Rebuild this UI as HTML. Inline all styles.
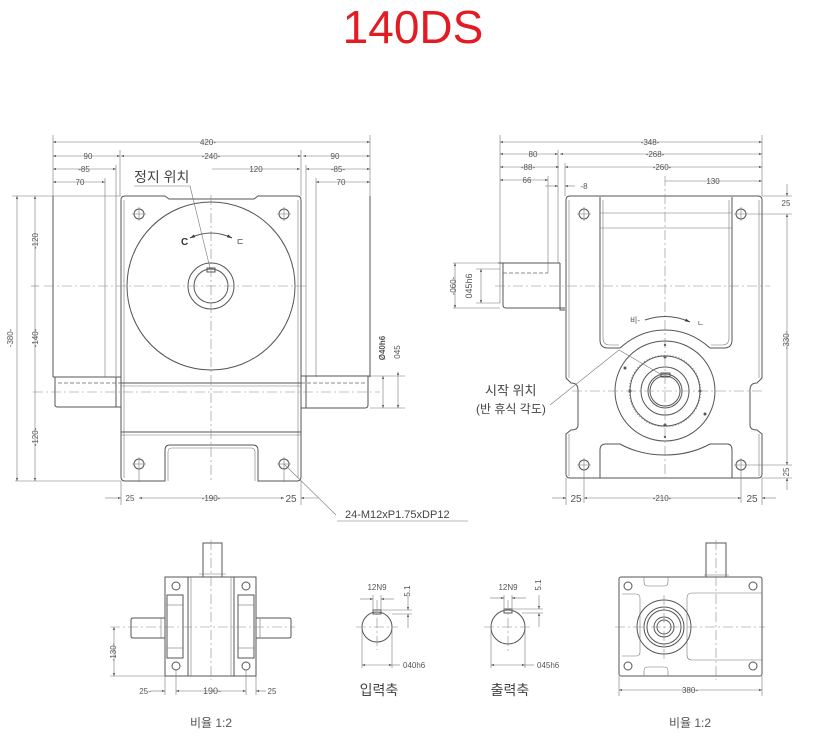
<!DOCTYPE html>
<html><head><meta charset="utf-8"><style>
html,body{margin:0;padding:0;background:#fff;width:813px;height:743px;overflow:hidden}
svg{display:block}
text{font-family:"Liberation Sans","Noto Sans CJK KR",sans-serif;fill:#555}
.l{stroke:#555;stroke-width:1;fill:none}
.t{stroke:#777;stroke-width:0.6;fill:none}
.c{stroke:#888;stroke-width:0.6;fill:none;stroke-dasharray:10 3 2 3}
.d{stroke:#666;stroke-width:0.8;fill:none;stroke-dasharray:4 2}
.s{font-size:8px}
</style></head><body>
<svg width="813" height="743" viewBox="0 0 813 743" xmlns="http://www.w3.org/2000/svg">
<defs>
<marker id="a" viewBox="0 0 10 10" refX="10" refY="5" markerWidth="7" markerHeight="5" orient="auto-start-reverse"><path d="M0,2L10,5L0,8z" fill="#333"/></marker>
</defs>
<text x="413" y="43" font-size="46" text-anchor="middle" style="fill:#e31b23">140DS</text>

<!-- ===== LEFT TOP VIEW ===== -->
<g>
<line class="t" x1="53" y1="135" x2="53" y2="196"/>
<line class="t" x1="370" y1="135" x2="370" y2="196"/>
<line class="t" x1="53" y1="142" x2="370" y2="142" marker-start="url(#a)" marker-end="url(#a)"/>
<text class="s" x="208" y="145" text-anchor="middle">420-</text>
<line class="t" x1="53" y1="156" x2="120" y2="156" marker-start="url(#a)" marker-end="url(#a)"/>
<line class="t" x1="120" y1="150" x2="120" y2="196"/>
<line class="t" x1="121" y1="156" x2="301" y2="156" marker-start="url(#a)" marker-end="url(#a)"/>
<line class="t" x1="301" y1="150" x2="301" y2="196"/>
<line class="t" x1="303" y1="156" x2="370" y2="156" marker-start="url(#a)" marker-end="url(#a)"/>
<text class="s" x="88" y="159" text-anchor="middle">90</text>
<text class="s" x="211" y="159" text-anchor="middle">-240-</text>
<text class="s" x="335" y="159" text-anchor="middle">90</text>
<line class="t" x1="53" y1="169" x2="116" y2="169" marker-start="url(#a)" marker-end="url(#a)"/>
<line class="t" x1="116" y1="165" x2="116" y2="376"/>
<text class="s" x="84" y="172" text-anchor="middle">-85</text>
<line class="t" x1="212" y1="169" x2="300" y2="169" marker-end="url(#a)"/>
<text class="s" x="256" y="172" text-anchor="middle">120</text>
<line class="t" x1="306" y1="169" x2="370" y2="169" marker-start="url(#a)" marker-end="url(#a)"/>
<line class="t" x1="306" y1="165" x2="306" y2="376"/>
<text class="s" x="338" y="172" text-anchor="middle">-85-</text>
<line class="t" x1="53" y1="182" x2="105" y2="182" marker-start="url(#a)" marker-end="url(#a)"/>
<line class="t" x1="105" y1="178" x2="105" y2="377"/>
<text class="s" x="80" y="185" text-anchor="middle">70</text>
<line class="t" x1="316" y1="182" x2="370" y2="182" marker-start="url(#a)" marker-end="url(#a)"/>
<line class="t" x1="316" y1="178" x2="316" y2="377"/>
<text class="s" x="341" y="185" text-anchor="middle">70</text>
<line class="l" x1="53" y1="196" x2="53" y2="377"/>
<line class="l" x1="370" y1="196" x2="370" y2="377"/>
<path class="l" d="M53,377 H121 M55,377 V405 Q55,407 58,407 H121 M116,377 V407"/>
<path class="l" d="M301,376 H370 M368,376 V405 Q368,408 365,408 H301 M306,376 V408"/>
<line class="d" x1="58" y1="383" x2="121" y2="383"/>
<line class="d" x1="301" y1="383" x2="365" y2="383"/>
<path class="l" d="M125,196 H165 L169,199 H254 L258,196 H297 Q301,196 301,200 V477 Q301,481 297,481 H258 V450 Q258,445 253,445 H170 Q165,445 165,450 V481 H125 Q121,481 121,477 V200 Q121,196 125,196 Z"/>
<path class="t" d="M124,200 V478 M298,200 V478"/>
<line class="l" x1="121" y1="383" x2="301" y2="383"/>
<line class="t" x1="121" y1="386" x2="301" y2="386"/>
<line class="l" x1="121" y1="432" x2="301" y2="432"/>
<line class="t" x1="121" y1="435" x2="301" y2="435"/>
<path class="t" d="M168,481 V452 Q168,448 172,448 H251 Q255,448 255,452 V481"/>
<circle class="l" cx="211" cy="286" r="84"/>
<circle class="l" cx="211" cy="286" r="23"/>
<circle class="l" cx="211" cy="286" r="17"/>
<rect class="l" x="207" y="268" width="8" height="4"/>
<line class="c" x1="44" y1="286" x2="306" y2="286"/>
<line class="c" x1="33" y1="392" x2="380" y2="392"/>
<line class="c" x1="211" y1="195" x2="211" y2="483"/>
<path class="l" d="M190,238 Q211,228 232,238" marker-start="url(#a)" marker-end="url(#a)"/>
<text x="181" y="245" font-size="10" font-weight="bold" style="fill:#333">C</text>
<text x="236" y="245" font-size="9" style="fill:#333">ㄷ</text>
<g class="l">
<circle cx="139" cy="214" r="5"/><circle cx="284" cy="214" r="5"/><circle cx="139" cy="464" r="5"/><circle cx="284" cy="464" r="5"/>
</g>
<path class="t" d="M132,214h14M139,207v14M277,214h14M284,207v14M132,464h14M139,457v25M277,464h14M284,457v25"/>
<text x="134" y="182" font-size="14" style="fill:#444">정지 위치</text>
<line class="t" x1="134" y1="186" x2="190" y2="186"/>
<line class="t" x1="190" y1="186" x2="210" y2="268"/>
<line class="t" x1="284" y1="464" x2="336" y2="515"/>
<text x="345" y="518" font-size="11" style="fill:#444">24-M12xP1.75xDP12</text>
<line class="t" x1="337" y1="521" x2="468" y2="521"/>
<line class="t" x1="12" y1="196" x2="121" y2="196"/>
<line class="t" x1="15" y1="481" x2="121" y2="481"/>
<line class="t" x1="17" y1="196" x2="17" y2="481" marker-start="url(#a)" marker-end="url(#a)"/>
<text class="s" x="13" y="338" text-anchor="middle" transform="rotate(-90 13 338)">-380-</text>
<line class="t" x1="35" y1="196" x2="35" y2="286" marker-start="url(#a)"/>
<line class="t" x1="35" y1="286" x2="35" y2="392" />
<line class="t" x1="35" y1="392" x2="35" y2="481" marker-end="url(#a)"/>
<line class="t" x1="31" y1="286" x2="39" y2="286"/>
<text class="s" x="38" y="241" text-anchor="middle" transform="rotate(-90 38 241)">-120</text>
<text class="s" x="38" y="338" text-anchor="middle" transform="rotate(-90 38 338)">-140-</text>
<text class="s" x="38" y="437" text-anchor="middle" transform="rotate(-90 38 437)">-120-</text>
<line class="t" x1="370" y1="376" x2="405" y2="376"/>
<line class="t" x1="370" y1="408" x2="405" y2="408"/>
<line class="t" x1="383" y1="376" x2="383" y2="408" marker-start="url(#a)" marker-end="url(#a)"/>
<line class="t" x1="398" y1="372" x2="398" y2="408" marker-start="url(#a)" marker-end="url(#a)"/>
<text class="s" x="385" y="348" text-anchor="middle" font-weight="bold" transform="rotate(-90 385 348)">Ø40h6</text>
<text class="s" x="400" y="352" text-anchor="middle" transform="rotate(-90 400 352)">045</text>
<line class="t" x1="121" y1="481" x2="121" y2="505"/>
<line class="t" x1="301" y1="481" x2="301" y2="505"/>
<line class="t" x1="105" y1="498" x2="121" y2="498" marker-end="url(#a)"/>
<line class="t" x1="139" y1="498" x2="284" y2="498" marker-start="url(#a)" marker-end="url(#a)"/>
<line class="t" x1="301" y1="498" x2="318" y2="498" marker-start="url(#a)"/>
<text class="s" x="130" y="501" text-anchor="middle">25</text>
<text class="s" x="211" y="501" text-anchor="middle">-190-</text>
<text x="291" y="502" font-size="10" text-anchor="middle">25</text>
</g>

<!-- ===== RIGHT TOP VIEW ===== -->
<g>
<line class="t" x1="500" y1="135" x2="500" y2="303"/>
<line class="t" x1="762" y1="135" x2="762" y2="196"/>
<line class="t" x1="500" y1="142" x2="762" y2="142" marker-start="url(#a)" marker-end="url(#a)"/>
<text class="s" x="650" y="145" text-anchor="middle">-348-</text>
<line class="t" x1="500" y1="154" x2="558" y2="154" marker-start="url(#a)" marker-end="url(#a)"/>
<line class="t" x1="558" y1="150" x2="558" y2="263"/>
<line class="t" x1="560" y1="154" x2="762" y2="154" marker-start="url(#a)" marker-end="url(#a)"/>
<text class="s" x="533" y="157" text-anchor="middle">80</text>
<text class="s" x="655" y="157" text-anchor="middle">-268-</text>
<line class="t" x1="500" y1="167" x2="559" y2="167" marker-start="url(#a)" marker-end="url(#a)"/>
<line class="t" x1="565" y1="167" x2="762" y2="167" marker-start="url(#a)" marker-end="url(#a)"/>
<line class="t" x1="565" y1="163" x2="565" y2="196"/>
<text class="s" x="528" y="170" text-anchor="middle">-88-</text>
<text class="s" x="662" y="170" text-anchor="middle">-260-</text>
<line class="t" x1="500" y1="180" x2="548" y2="180" marker-start="url(#a)" marker-end="url(#a)"/>
<line class="t" x1="548" y1="176" x2="548" y2="273"/>
<text class="s" x="527" y="183" text-anchor="middle">66</text>
<line class="t" x1="545" y1="186" x2="558" y2="186" marker-end="url(#a)"/>
<line class="t" x1="565" y1="186" x2="575" y2="186" marker-start="url(#a)"/>
<text class="s" x="584" y="189" text-anchor="middle">-8</text>
<line class="t" x1="665" y1="181" x2="762" y2="181" marker-end="url(#a)"/>
<text class="s" x="713" y="184" text-anchor="middle">130</text>
<path class="l" d="M560,263 H498 M503,263 V305 Q503,308 506,308 H565 M560,263 V310 H565"/>
<line class="d" x1="503" y1="273" x2="548" y2="273"/>
<path class="l" d="M570,196 H758 Q762,196 762,200 V378 L757,383 Q750,383 750,390 V425 Q750,430 757,430 L762,434 V474 Q762,478 758,478 H570 Q566,478 566,474 V434 L571,430 Q578,430 578,425 V390 Q578,383 571,383 L566,378 V200 Q566,196 570,196 Z"/>
<path class="t" d="M569,200 V378 M569,434 V476 M759,200 V378 M759,434 V476"/>
<path class="l" d="M600,197 V340 Q600,348 608,348 H620 Q640,330 665,330 Q690,330 710,348 H724 Q732,348 732,340 V197"/>
<path class="t" d="M603,200 V338 Q603,345 610,345 H619 M729,200 V338 Q729,345 722,345 H711"/>
<line class="t" x1="600" y1="213" x2="732" y2="213"/>
<line class="t" x1="600" y1="228" x2="732" y2="228"/>
<path class="l" d="M600,478 V450 Q600,444 606,444 H620 Q640,455 665,455 Q690,455 710,444 H727 Q732,444 732,450 V478"/>
<circle class="l" cx="665" cy="391" r="50"/>
<circle class="t" cx="665" cy="391" r="36" stroke-dasharray="1 2"/>
<circle class="l" cx="665" cy="391" r="35"/>
<circle class="l" cx="665" cy="391" r="24"/>
<circle class="l" cx="665" cy="391" r="17"/>
<circle class="l" cx="665" cy="391" r="15"/>
<rect class="l" x="661" y="373" width="9" height="4"/>
<g fill="#555"><circle cx="665" cy="357" r="1.5"/><circle cx="665" cy="425" r="1.5"/><circle cx="630" cy="391" r="1.5"/><circle cx="700" cy="391" r="1.5"/><circle cx="625" cy="368" r="1.5"/><circle cx="705" cy="414" r="1.5"/><circle cx="665" cy="345" r="1.2"/><circle cx="665" cy="437" r="1.2"/></g>
<line class="c" x1="495" y1="286" x2="770" y2="286"/>
<line class="c" x1="572" y1="391" x2="765" y2="391"/>
<line class="c" x1="665" y1="176" x2="665" y2="478"/>
<path class="l" d="M645,320 Q668,312 690,322" marker-end="url(#a)"/>
<text class="s" x="630" y="323">비-</text>
<text class="s" x="697" y="326">ㄴ</text>
<g class="l"><circle cx="584" cy="214" r="5"/><circle cx="741" cy="214" r="5"/><circle cx="584" cy="465" r="5"/><circle cx="741" cy="465" r="5"/></g>
<path class="t" d="M577,214h14M584,207v14M734,214h14M741,207v14M577,465h14M584,458v45M734,465h14M741,458v45"/>
<line class="t" x1="748" y1="214" x2="792" y2="214"/>
<line class="t" x1="748" y1="465" x2="792" y2="465"/>
<line class="t" x1="762" y1="196" x2="792" y2="196"/>
<line class="t" x1="762" y1="478" x2="792" y2="478"/>
<line class="t" x1="787" y1="184" x2="787" y2="196" marker-end="url(#a)"/>
<line class="t" x1="787" y1="214" x2="787" y2="465" marker-start="url(#a)" marker-end="url(#a)"/>
<line class="t" x1="787" y1="490" x2="787" y2="478" marker-end="url(#a)"/>
<text class="s" x="786" y="206" text-anchor="middle">25</text>
<text class="s" x="789" y="340" text-anchor="middle" transform="rotate(-90 789 340)">-330-</text>
<text class="s" x="789" y="472" text-anchor="middle" transform="rotate(-90 789 472)">25</text>
<line class="t" x1="453" y1="263" x2="500" y2="263"/>
<line class="t" x1="453" y1="308" x2="500" y2="308"/>
<line class="t" x1="455" y1="263" x2="455" y2="308" marker-start="url(#a)" marker-end="url(#a)"/>
<line class="t" x1="481" y1="269" x2="481" y2="303" marker-start="url(#a)" marker-end="url(#a)"/>
<line class="t" x1="476" y1="269" x2="500" y2="269"/>
<line class="t" x1="476" y1="303" x2="500" y2="303"/>
<text class="s" x="456" y="286" text-anchor="middle" transform="rotate(-90 456 286)">-060-</text>
<text x="472" y="286" font-size="9" text-anchor="middle" transform="rotate(-90 472 286)">045h6</text>
<text x="485" y="395" font-size="13" style="fill:#444">시작 위치</text>
<text x="476" y="413" font-size="12" style="fill:#444">(반 휴식 각도)</text>
<line class="t" x1="550" y1="405" x2="619" y2="350"/>
<line class="t" x1="619" y1="350" x2="662" y2="375"/>
<line class="t" x1="566" y1="478" x2="566" y2="505"/>
<line class="t" x1="762" y1="478" x2="762" y2="505"/>
<line class="t" x1="552" y1="498" x2="566" y2="498" marker-end="url(#a)"/>
<line class="t" x1="584" y1="498" x2="741" y2="498" marker-start="url(#a)" marker-end="url(#a)"/>
<line class="t" x1="762" y1="498" x2="776" y2="498" marker-start="url(#a)"/>
<text x="576" y="502" font-size="10" text-anchor="middle">25</text>
<text class="s" x="662" y="501" text-anchor="middle">-210-</text>
<text x="752" y="502" font-size="10" text-anchor="middle">25</text>
</g>

<!-- ===== BOTTOM LEFT VIEW ===== -->
<g>
<rect class="l" x="203" y="543" width="19" height="34"/>
<line class="t" x1="199" y1="574" x2="226" y2="574"/>
<rect class="l" x="165" y="577" width="91" height="99"/>
<line class="l" x1="188" y1="577" x2="188" y2="676"/>
<line class="l" x1="234" y1="577" x2="234" y2="676"/>
<line class="t" x1="191" y1="577" x2="191" y2="676"/>
<line class="t" x1="231" y1="577" x2="231" y2="676"/>
<rect class="l" x="167" y="595" width="16" height="63"/>
<rect class="l" x="238" y="595" width="16" height="63"/>
<line class="t" x1="167" y1="605" x2="183" y2="605"/><line class="t" x1="167" y1="648" x2="183" y2="648"/>
<line class="t" x1="238" y1="605" x2="254" y2="605"/><line class="t" x1="238" y1="648" x2="254" y2="648"/>
<path class="l" d="M165,618 H133 Q131,618 131,620 V636 Q131,638 133,638 H165"/>
<path class="l" d="M256,618 H289 Q291,618 291,620 V636 Q291,638 289,638 H256"/>
<line class="t" x1="161" y1="618" x2="161" y2="638"/><line class="t" x1="260" y1="618" x2="260" y2="638"/>
<g class="l"><circle cx="176" cy="586" r="4"/><circle cx="246" cy="586" r="4"/><circle cx="176" cy="666" r="4"/><circle cx="246" cy="666" r="4"/></g>
<line class="c" x1="110" y1="627" x2="295" y2="627"/>
<line class="c" x1="211" y1="540" x2="211" y2="680"/>
<line class="t" x1="110" y1="676" x2="165" y2="676"/>
<line class="t" x1="114" y1="627" x2="114" y2="676" marker-start="url(#a)" marker-end="url(#a)"/>
<text class="s" x="116" y="652" text-anchor="middle" transform="rotate(-90 116 652)">-130-</text>
<line class="t" x1="165" y1="676" x2="165" y2="695"/>
<line class="t" x1="176" y1="670" x2="176" y2="695"/>
<line class="t" x1="246" y1="670" x2="246" y2="695"/>
<line class="t" x1="256" y1="676" x2="256" y2="695"/>
<line class="t" x1="150" y1="691" x2="165" y2="691" marker-end="url(#a)"/>
<line class="t" x1="176" y1="691" x2="246" y2="691" marker-start="url(#a)" marker-end="url(#a)"/>
<line class="t" x1="256" y1="691" x2="266" y2="691" marker-start="url(#a)"/>
<text class="s" x="145" y="694" text-anchor="middle">25-</text>
<text x="212" y="694" font-size="9" text-anchor="middle">190-</text>
<text class="s" x="272" y="694" text-anchor="middle">25</text>
<text x="211" y="727" font-size="12" text-anchor="middle">비율 1:2</text>
</g>

<!-- ===== SHAFT SECTIONS ===== -->
<g>
<circle class="l" cx="377" cy="627" r="15"/>
<rect class="l" x="373" y="610" width="8" height="4"/>
<line class="c" x1="356" y1="627" x2="398" y2="627"/>
<line class="c" x1="377" y1="600" x2="377" y2="650"/>
<line class="t" x1="362" y1="627" x2="362" y2="668"/>
<line class="t" x1="392" y1="627" x2="392" y2="668"/>
<line class="t" x1="362" y1="665" x2="392" y2="665" marker-start="url(#a)" marker-end="url(#a)"/>
<line class="t" x1="392" y1="665" x2="400" y2="665"/>
<text class="s" x="403" y="668">040h6</text>
<line class="t" x1="373" y1="595" x2="373" y2="612"/><line class="t" x1="381" y1="595" x2="381" y2="612"/>
<line class="t" x1="360" y1="599" x2="373" y2="599" marker-end="url(#a)"/>
<line class="t" x1="394" y1="599" x2="381" y2="599" marker-end="url(#a)"/>
<text class="s" x="377" y="590" text-anchor="middle">12N9</text>
<line class="t" x1="381" y1="610" x2="412" y2="610"/>
<line class="t" x1="392" y1="614" x2="412" y2="614"/>
<line class="t" x1="408" y1="596" x2="408" y2="610" marker-end="url(#a)"/>
<line class="t" x1="408" y1="628" x2="408" y2="614" marker-end="url(#a)"/>
<text class="s" x="410" y="591" text-anchor="middle" transform="rotate(-90 410 591)">5.1</text>
<text x="379" y="695" font-size="14" text-anchor="middle" style="fill:#444">입력축</text>

<circle class="l" cx="508" cy="627" r="17"/>
<rect class="l" x="504" y="609" width="8" height="4"/>
<line class="c" x1="484" y1="627" x2="532" y2="627"/>
<line class="c" x1="508" y1="600" x2="508" y2="652"/>
<line class="t" x1="491" y1="627" x2="491" y2="668"/>
<line class="t" x1="525" y1="627" x2="525" y2="668"/>
<line class="t" x1="491" y1="665" x2="525" y2="665" marker-start="url(#a)" marker-end="url(#a)"/>
<line class="t" x1="525" y1="665" x2="534" y2="665"/>
<text class="s" x="537" y="668">045h6</text>
<line class="t" x1="504" y1="595" x2="504" y2="611"/><line class="t" x1="512" y1="595" x2="512" y2="611"/>
<line class="t" x1="490" y1="598" x2="504" y2="598" marker-end="url(#a)"/>
<line class="t" x1="526" y1="598" x2="512" y2="598" marker-end="url(#a)"/>
<text class="s" x="508" y="590" text-anchor="middle">12N9</text>
<line class="t" x1="512" y1="609" x2="543" y2="609"/>
<line class="t" x1="522" y1="613" x2="543" y2="613"/>
<line class="t" x1="539" y1="595" x2="539" y2="609" marker-end="url(#a)"/>
<line class="t" x1="539" y1="627" x2="539" y2="613" marker-end="url(#a)"/>
<text class="s" x="541" y="585" text-anchor="middle" transform="rotate(-90 541 585)">5.1</text>
<text x="510" y="695" font-size="14" text-anchor="middle" style="fill:#444">출력축</text>
</g>

<!-- ===== BOTTOM RIGHT VIEW ===== -->
<g>
<rect class="l" x="706" y="543" width="20" height="34"/>
<line class="t" x1="704" y1="575" x2="729" y2="575"/>
<rect class="l" x="619" y="577" width="143" height="99" rx="2"/>
<path class="t" d="M644,577 V582 Q644,586 648,586 H664 Q668,586 668,582 V577"/>
<path class="t" d="M644,676 V671 Q644,667 648,667 H664 Q668,667 668,671 V676"/>
<path class="t" d="M622,594 H636 Q640,594 640,598 V652 Q640,656 636,656 H622"/>
<path class="t" d="M762,593 H692 Q687,593 687,598 V655 Q687,660 692,660 H762"/>
<circle class="l" cx="664" cy="627" r="27"/>
<circle class="l" cx="664" cy="627" r="20"/>
<circle class="l" cx="664" cy="627" r="17"/>
<circle class="l" cx="664" cy="627" r="10"/>
<circle class="l" cx="664" cy="627" r="7"/>
<g class="l"><circle cx="628" cy="586" r="4"/><circle cx="753" cy="586" r="4"/><circle cx="628" cy="666" r="4"/><circle cx="753" cy="666" r="4"/></g>
<line class="c" x1="615" y1="627" x2="765" y2="627"/>
<line class="c" x1="664" y1="595" x2="664" y2="660"/>
<line class="c" x1="716" y1="540" x2="716" y2="680"/>
<line class="t" x1="619" y1="676" x2="619" y2="696"/>
<line class="t" x1="762" y1="676" x2="762" y2="696"/>
<line class="t" x1="619" y1="690" x2="762" y2="690" marker-start="url(#a)" marker-end="url(#a)"/>
<text class="s" x="690" y="693" text-anchor="middle">380-</text>
<text x="690" y="727" font-size="12" text-anchor="middle">비율 1:2</text>
</g>
</svg>
</body></html>
